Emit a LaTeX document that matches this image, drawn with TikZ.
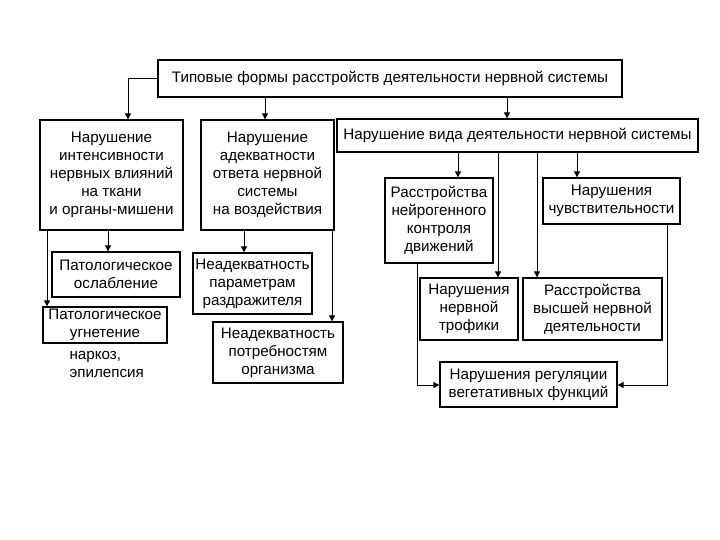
\documentclass[tikz,border=0pt]{standalone}
\usepackage{fontspec}
\setmainfont{Liberation Sans}
\usetikzlibrary{arrows.meta}
\begin{document}
\begin{tikzpicture}[x=1pt,y=-1pt,
  box/.style={draw,line width=1.3pt,align=center,inner sep=0pt,font=\fontsize{15.2}{18}\selectfont},
  arr/.style={line width=0.9pt,-{Triangle[width=6pt,length=6pt]}},
  ln/.style={line width=0.9pt}]
\useasboundingbox (0,0) rectangle (720,540);
\node[box,minimum width=464,minimum height=37] (top) at (390,78.5) {Типовые формы расстройств деятельности нервной системы};
\node[box,minimum width=143,minimum height=110] (A) at (111.5,175) {Нарушение\\интенсивности\\нервных влияний\\на ткани\\и органы-мишени};
\node[box,minimum width=133,minimum height=110] (B) at (267.5,175) {Нарушение\\адекватности\\ответа нервной\\системы\\на воздействия};
\node[box,minimum width=361,minimum height=33] (C) at (517.5,135.5) {Нарушение вида деятельности нервной системы};
\node[box,minimum width=128,minimum height=45] (A1) at (116,274.5) {Патологическое\\ослабление};
\node[box,minimum width=124,minimum height=36] (A2) at (105,325) {Патологическое\\угнетение};
\node[align=left,font=\fontsize{15.2}{18}\selectfont,anchor=north west] (nt) at (66,348) {наркоз,\\эпилепсия};
\node[box,minimum width=119,minimum height=61] (B1) at (252.5,283.5) {Неадекватность\\параметрам\\раздражителя};
\node[box,minimum width=130,minimum height=61] (B2) at (278,352.5) {Неадекватность\\потребностям\\организма};
\node[box,minimum width=108,minimum height=85] (C1) at (439,220.5) {Расстройства\\нейрогенного\\контроля\\движений};
\node[box,minimum width=137,minimum height=46] (C2) at (611.5,201) {Нарушения\\чувствительности};
\node[box,minimum width=98,minimum height=62] (C3) at (469,309) {Нарушения\\нервной\\трофики};
\node[box,minimum width=139,minimum height=62] (C4) at (592.5,309) {Расстройства\\высшей нервной\\деятельности};
\node[box,minimum width=177,minimum height=45] (C5) at (528.5,384.5) {Нарушения регуляции\\вегетативных функций};
\coordinate (xa) at (128,0);
\coordinate (xb) at (265,0);
\coordinate (xc) at (507,0);
\coordinate (xa1) at (108,0);
\coordinate (xa2) at (47,0);
\coordinate (xb1) at (244,0);
\coordinate (xb2) at (332,0);
\coordinate (x1) at (458,0);
\coordinate (x3) at (498,0);
\coordinate (x4) at (537,0);
\coordinate (x2) at (577,0);
\coordinate (xl) at (417,0);
\coordinate (xr) at (667,0);
\coordinate (yv) at (0,385);
\draw[arr] (top.west) -| (A.north -| xa);
\draw[arr] (top.south -| xb) -- (B.north -| xb);
\draw[arr] (top.south -| xc) -- (C.north -| xc);
\draw[arr] (A.south -| xa1) -- (A1.north -| xa1);
\draw[arr] (A.south -| xa2) -- (A2.north -| xa2);
\draw[arr] (B.south -| xb1) -- (B1.north -| xb1);
\draw[arr] (B.south -| xb2) -- (B2.north -| xb2);
\draw[arr] (C.south -| x1) -- (C1.north -| x1);
\draw[arr] (C.south -| x3) -- (C3.north -| x3);
\draw[arr] (C.south -| x4) -- (C4.north -| x4);
\draw[arr] (C.south -| x2) -- (C2.north -| x2);
\draw[arr] (C1.south -| xl) -- (xl |- yv) -- (C5.west |- yv);
\draw[arr] (C2.south -| xr) -- (xr |- yv) -- (C5.east |- yv);
\end{tikzpicture}
\end{document}
